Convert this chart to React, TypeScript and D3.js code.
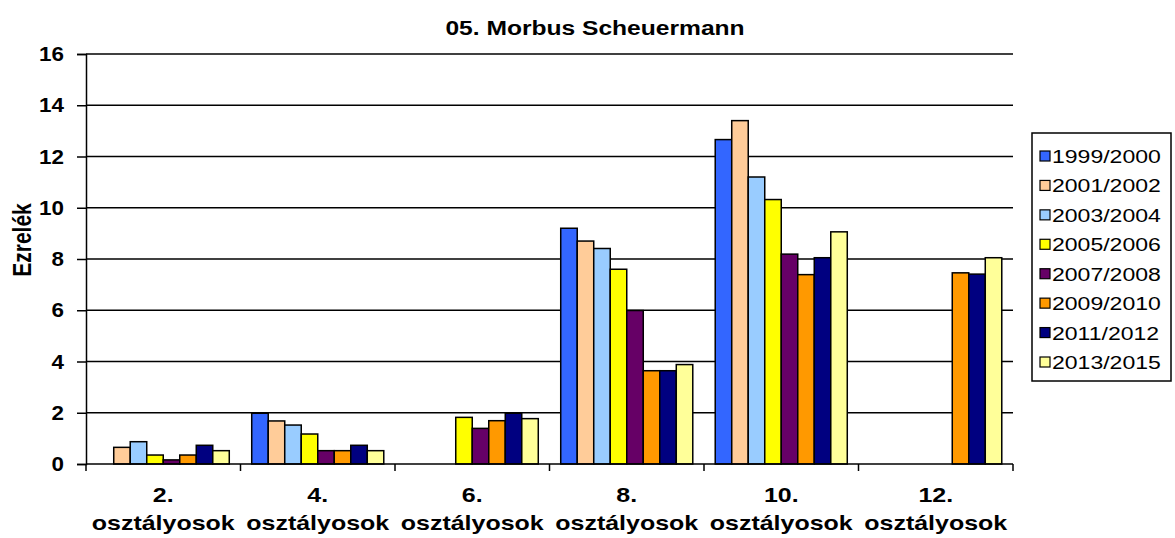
import React, { useEffect, useRef } from "react";
import * as d3 from "d3";

const categories = ["2.", "4.", "6.", "8.", "10.", "12."];
const seriesNames = ["1999/2000", "2001/2002", "2003/2004", "2005/2006", "2007/2008", "2009/2010", "2011/2012", "2013/2015"];
const colors = ["#3366FF", "#FFCC99", "#99CCFF", "#FFFF00", "#660066", "#FF9900", "#000080", "#FFFF99"];

// values per series, one entry per category (null = no bar)
const s1999 = [null, 1.98, null, 9.2, 12.66, null];
const s2001 = [0.65, 1.68, null, 8.7, 13.4, null];
const s2003 = [0.87, 1.52, null, 8.41, 11.2, null];
const s2005 = [0.35, 1.17, 1.82, 7.6, 10.32, null];
const s2007 = [0.16, 0.52, 1.39, 5.99, 8.19, null];
const s2009 = [0.35, 0.52, 1.69, 3.64, 7.39, 7.46];
const s2011 = [0.73, 0.73, 1.98, 3.64, 8.05, 7.41];
const s2013 = [0.52, 0.52, 1.77, 3.88, 9.06, 8.05];
const seriesValues = [s1999, s2001, s2003, s2005, s2007, s2009, s2011, s2013];
const yTicks = [0, 2, 4, 6, 8, 10, 12, 14, 16];

const FONT = "Arial, 'Liberation Sans', sans-serif";

export default function App() {
  const ref = useRef<SVGSVGElement>(null);

  useEffect(() => {
    const width = 1175;
    const height = 538;
    const margin = { top: 54, right: 162, bottom: 74, left: 86 };

    const svg = d3.select(ref.current);
    svg.selectAll("*").remove();
    svg.attr("width", width).attr("height", height);

    const x0 = d3.scaleBand().domain(categories).range([margin.left, width - margin.right]).padding(0);
    const x1 = d3.scaleBand().domain(seriesNames).range([0, x0.bandwidth()]).paddingOuter(0.68).paddingInner(0);
    const y = d3.scaleLinear().domain([0, 16]).range([height - margin.bottom, margin.top]);

    // the source chart was stretched sideways, so its text is a bit wide
    const stretched = (x: number, yy: number, s: string, size: number, bold: boolean, anchor: string, sx: number) =>
      svg.append("text")
        .attr("transform", `translate(${x},${yy}) scale(${sx},1)`)
        .attr("text-anchor", anchor)
        .style("font-family", FONT)
        .style("font-weight", bold ? "bold" : "normal")
        .style("font-size", size + "px")
        .text(s);

    // title
    stretched(595, 35, "05. Morbus Scheuermann", 20, true, "middle", 1.23);

    // gridlines
    svg.append("g").selectAll("line")
      .data(yTicks.filter(d => d > 0))
      .enter().append("line")
      .attr("x1", margin.left).attr("x2", width - margin.right)
      .attr("y1", d => y(d)).attr("y2", d => y(d))
      .attr("stroke", "#000").attr("stroke-width", 1.5);

    // bars
    seriesValues.forEach((vals, si) => {
      svg.append("g").selectAll("rect")
        .data(vals.map((v, ci) => ({ v, c: categories[ci] })).filter(d => d.v != null))
        .enter().append("rect")
        .attr("x", d => (x0(d.c) as number) + (x1(seriesNames[si]) as number))
        .attr("y", d => y(d.v as number))
        .attr("width", x1.bandwidth())
        .attr("height", d => y(0) - y(d.v as number))
        .attr("fill", colors[si])
        .attr("stroke", "#000").attr("stroke-width", 1.5);
    });

    // y axis
    const yAxis = d3.axisLeft(y).tickValues(yTicks).tickSize(9).tickFormat(() => "");
    const gy = svg.append("g").attr("transform", `translate(${margin.left},0)`).call(yAxis);
    gy.selectAll("path, line").attr("stroke", "#000").attr("stroke-width", 1.5);
    yTicks.forEach(t => stretched(64, y(t) + 7, String(t), 20, true, "end", 1.12));

    // x axis
    const xLine = svg.append("g").attr("transform", `translate(0,${y(0)})`);
    xLine.append("line")
      .attr("x1", margin.left).attr("x2", width - margin.right)
      .attr("stroke", "#000").attr("stroke-width", 1.5);
    const bounds = categories.map(c => x0(c) as number).concat([width - margin.right]);
    xLine.selectAll("line.tick")
      .data(bounds).enter().append("line")
      .attr("class", "tick")
      .attr("x1", d => d).attr("x2", d => d)
      .attr("y1", 0).attr("y2", 7)
      .attr("stroke", "#000").attr("stroke-width", 1.5);
    categories.forEach(c => {
      const cx = (x0(c) as number) + x0.bandwidth() / 2;
      stretched(cx, 502, c, 21, true, "middle", 1.19);
      stretched(cx, 530, "osztályosok", 21, true, "middle", 1.19);
    });

    // y title
    svg.append("text")
      .attr("transform", "translate(31,240) scale(1.2,1) rotate(-90)")
      .attr("text-anchor", "middle")
      .style("font-family", FONT).style("font-weight", "bold").style("font-size", "21px")
      .text("Ezrelék");

    // legend
    const lg = svg.append("g");
    lg.append("rect")
      .attr("x", 1032).attr("y", 133).attr("width", 139).attr("height", 248)
      .attr("fill", "#fff").attr("stroke", "#000").attr("stroke-width", 1.5);
    const ly = d3.scalePoint().domain(seriesNames).range([157, 363]);
    seriesNames.forEach((name, i) => {
      const yy = ly(name) as number;
      lg.append("rect")
        .attr("x", 1040).attr("y", yy - 6)
        .attr("width", 10).attr("height", 10)
        .attr("fill", colors[i])
        .attr("stroke", "#000").attr("stroke-width", 1.2);
      stretched(1052, yy + 6, name, 18, false, "start", 1.28);
    });
  }, []);

  return <svg ref={ref} style={{ position: "absolute", left: 0, top: 0 }}></svg>;
}
